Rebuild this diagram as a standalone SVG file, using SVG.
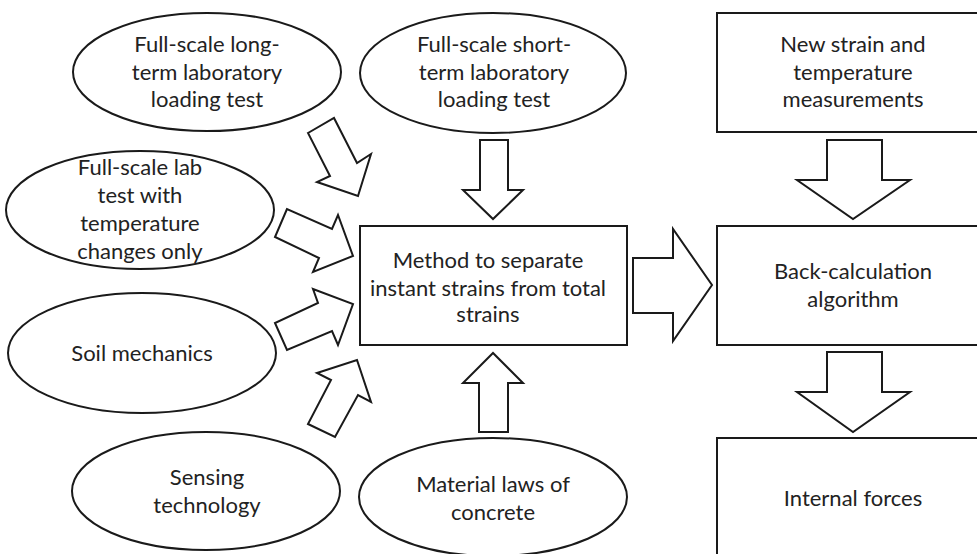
<svg xmlns="http://www.w3.org/2000/svg" width="977" height="554" viewBox="0 0 977 554">
<style>
.n{fill:#fff;stroke:#1a1a1a;stroke-width:2}
.a{fill:#fff;stroke:#1a1a1a;stroke-width:2;stroke-linejoin:miter}
text{font-family:Lato,"Liberation Sans",sans-serif;font-size:22px;fill:#222;text-anchor:middle}
</style>
<rect width="977" height="554" fill="#fff"/>
<g id="n1"><ellipse class="n" cx="207" cy="72" rx="134" ry="59"/>
<text x="207" y="52">Full-scale long-</text><text x="207" y="80">term laboratory</text><text x="207" y="107">loading test</text></g>
<g id="n2"><ellipse class="n" cx="140" cy="210" rx="134" ry="59"/>
<text x="140" y="175">Full-scale lab</text><text x="140" y="203">test with</text><text x="140" y="231">temperature</text><text x="140" y="259">changes only</text></g>
<g id="n3"><ellipse class="n" cx="493" cy="73" rx="133" ry="60"/>
<text x="494" y="52">Full-scale short-</text><text x="494" y="80">term laboratory</text><text x="494" y="107">loading test</text></g>
<g id="n4"><ellipse class="n" cx="142" cy="353" rx="134" ry="60"/>
<text x="142" y="361">Soil mechanics</text></g>
<g id="n5"><ellipse class="n" cx="206" cy="491" rx="134" ry="59"/>
<text x="207" y="485">Sensing</text><text x="207" y="513">technology</text></g>
<g id="n6"><ellipse class="n" cx="493" cy="497" rx="134" ry="59"/>
<text x="493" y="492">Material laws of</text><text x="493" y="520">concrete</text></g>
<g id="n7"><rect class="n" x="360" y="226" width="267" height="119"/>
<text x="488" y="268">Method to separate</text><text x="488" y="296">instant strains from total</text><text x="488" y="322">strains</text></g>
<g id="n8"><rect class="n" x="717" y="13" width="275" height="119"/>
<text x="853" y="52">New strain and</text><text x="853" y="80">temperature</text><text x="853" y="107">measurements</text></g>
<g id="n9"><rect class="n" x="717" y="226" width="275" height="119"/>
<text x="853" y="279">Back-calculation</text><text x="853" y="307">algorithm</text></g>
<g id="n10"><rect class="n" x="717" y="438" width="275" height="125"/>
<text x="853" y="506">Internal forces</text></g>
<g id="connectors">
<polygon class="a" points="308,133 334,118 357,163 371,154 358,196 317,182 330,176"/>
<polygon class="a" points="287,209 275,237 319,258 313,272 353,256 338,215 332,229"/>
<polygon class="a" points="275,323 287,350 332,331 338,345 353,304 313,289 318,303"/>
<polygon class="a" points="308,424 335,437 358,395 371,402 357,360 317,373 331,380"/>
<polygon class="a" points="480,140 508,140 508,190 523,190 493,219 463,190 480,190"/>
<polygon class="a" points="479,432 508,432 508,383 523,383 493,353 463,383 479,383"/>
<polygon class="a" points="633,258 673,258 673,229 712,285 673,341 673,313 633,313"/>
<polygon class="a" points="827,140 882,140 882,180 910,180 853,219 797,180 827,180"/>
<polygon class="a" points="827,352 882,352 882,392 910,392 853,432 797,392 827,392"/>
</g>
</svg>
